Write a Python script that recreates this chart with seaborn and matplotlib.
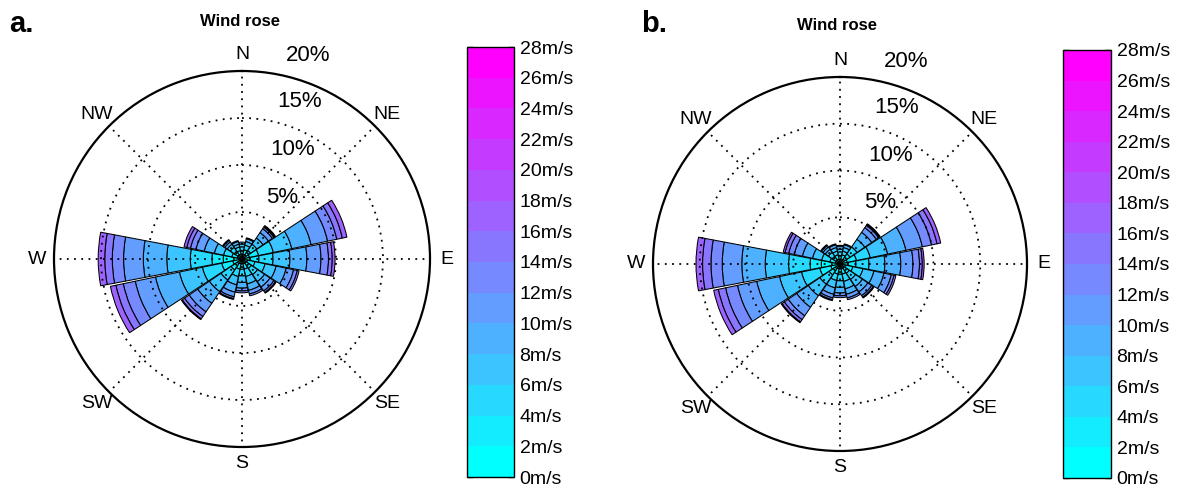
import numpy as np
import matplotlib
matplotlib.use("Agg")
import matplotlib.pyplot as plt
from matplotlib.colors import ListedColormap, BoundaryNorm
from matplotlib.cm import ScalarMappable
import seaborn as sns

# ---------------- data ----------------
directions = ["N", "NNE", "NE", "ENE", "E", "ESE", "SE", "SSE",
              "S", "SSW", "SW", "WSW", "W", "WNW", "NW", "NNW"]
compass_labels = ["N", "NE", "E", "SE", "S", "SW", "W", "NW"]
speed_edges = [0, 2, 4, 6, 8, 10, 12, 14, 16, 18, 20, 22, 24, 26, 28]
speed_ticklabels = ["0m/s", "2m/s", "4m/s", "6m/s", "8m/s", "10m/s", "12m/s",
                    "14m/s", "16m/s", "18m/s", "20m/s", "22m/s", "24m/s",
                    "26m/s", "28m/s"]
ring_values = [5, 10, 15, 20]
ring_labels = ["5%", "10%", "15%", "20%"]

# frequency (%) per direction (rows) and speed bin 0-2 ... 16-18 m/s (cols)
freq_a = [
    [0.5, 0.4, 0.4, 0.3, 0.2, 0.0, 0.0, 0.0, 0.0],  # N
    [0.5, 0.5, 0.5, 0.4, 0.3, 0.1, 0.0, 0.0, 0.0],  # NNE
    [0.5, 0.6, 0.8, 0.8, 0.7, 0.5, 0.2, 0.1, 0.1],  # NE
    [0.8, 1.0, 1.6, 2.0, 2.1, 1.8, 1.0, 0.6, 0.5],  # ENE
    [0.8, 1.0, 1.5, 1.8, 1.8, 1.5, 0.8, 0.4, 0.3],  # E
    [0.6, 0.8, 1.1, 1.2, 1.1, 0.8, 0.4, 0.2, 0.0],  # ESE
    [0.5, 0.7, 0.8, 0.9, 0.7, 0.5, 0.2, 0.1, 0.0],  # SE
    [0.5, 0.6, 0.8, 0.8, 0.7, 0.4, 0.2, 0.0, 0.0],  # SSE
    [0.5, 0.6, 0.7, 0.7, 0.6, 0.3, 0.2, 0.0, 0.0],  # S
    [0.5, 0.6, 0.8, 0.9, 0.8, 0.5, 0.2, 0.1, 0.0],  # SSW
    [0.6, 0.8, 1.3, 1.5, 1.5, 1.1, 0.6, 0.3, 0.1],  # SW
    [1.0, 1.2, 2.1, 2.5, 2.6, 2.2, 1.3, 0.8, 0.6],  # WSW
    [2.0, 1.2, 2.3, 2.5, 2.5, 2.1, 1.2, 0.8, 0.7],  # W
    [0.5, 0.6, 0.9, 1.0, 1.1, 0.9, 0.6, 0.4, 0.3],  # WNW
    [0.5, 0.5, 0.5, 0.4, 0.3, 0.2, 0.1, 0.0, 0.0],  # NW
    [0.5, 0.4, 0.4, 0.3, 0.3, 0.1, 0.0, 0.0, 0.0],  # NNW
]
freq_b = [
    [0.5, 0.4, 0.4, 0.3, 0.3, 0.1, 0.0, 0.0, 0.0],  # N
    [0.5, 0.5, 0.4, 0.4, 0.3, 0.1, 0.0, 0.0, 0.0],  # NNE
    [0.6, 0.7, 0.9, 1.0, 0.9, 0.6, 0.3, 0.1, 0.1],  # NE
    [0.8, 1.0, 1.5, 1.9, 2.0, 1.8, 1.0, 0.6, 0.4],  # ENE
    [0.8, 0.9, 1.4, 1.7, 1.7, 1.3, 0.7, 0.3, 0.2],  # E
    [0.6, 0.8, 1.1, 1.2, 1.1, 0.8, 0.3, 0.2, 0.0],  # ESE
    [0.5, 0.7, 0.8, 0.9, 0.7, 0.5, 0.2, 0.1, 0.0],  # SE
    [0.5, 0.6, 0.8, 0.8, 0.6, 0.4, 0.2, 0.0, 0.0],  # SSE
    [0.5, 0.6, 0.7, 0.7, 0.6, 0.3, 0.2, 0.0, 0.0],  # S
    [0.5, 0.6, 0.7, 0.8, 0.7, 0.4, 0.2, 0.1, 0.0],  # SSW
    [0.6, 0.8, 1.2, 1.5, 1.5, 1.1, 0.5, 0.3, 0.1],  # SW
    [1.0, 1.2, 2.0, 2.4, 2.5, 2.1, 1.3, 0.8, 0.5],  # WSW
    [2.0, 1.2, 2.3, 2.5, 2.5, 2.1, 1.2, 0.9, 0.7],  # W
    [0.5, 0.6, 0.9, 1.0, 1.1, 0.9, 0.6, 0.4, 0.2],  # WNW
    [0.5, 0.5, 0.5, 0.4, 0.3, 0.2, 0.1, 0.0, 0.0],  # NW
    [0.5, 0.5, 0.4, 0.4, 0.3, 0.1, 0.0, 0.0, 0.0],  # NNW
]

# ---------------- style ----------------
sns.set_theme(style="white")
plt.rcParams['font.family'] = ['Liberation Sans', 'DejaVu Sans']
plt.rcParams['text.color'] = 'black'
plt.rcParams['axes.labelcolor'] = 'black'
plt.rcParams['xtick.color'] = 'black'
plt.rcParams['ytick.color'] = 'black'

palette = sns.blend_palette(["#00ffff", "#ff00ff"], n_colors=len(speed_edges) - 1)
cmap = ListedColormap(palette)
norm = BoundaryNorm(speed_edges, cmap.N)

W, H = 1193, 493
fig = plt.figure(figsize=(W / 100, H / 100), dpi=100)
fig.patch.set_facecolor("white")


def px_rect(x0, y0, x1, y1):
    return [x0 / W, 1 - y1 / H, (x1 - x0) / W, (y1 - y0) / H]


def draw_rose(rect, freq):
    ax = fig.add_axes(rect, projection="polar")
    ax.set_theta_zero_location("N")
    ax.set_theta_direction(-1)
    n = len(directions)
    theta = np.deg2rad(np.arange(n) * 360.0 / n)
    width = np.deg2rad(360.0 / n) * 0.955
    f = np.array(freq, dtype=float)
    bottom = np.zeros(n)
    for j in range(f.shape[1]):
        h = f[:, j]
        m = h > 0
        ax.bar(theta[m], h[m], width=width, bottom=bottom[m], color=palette[j],
               edgecolor="black", linewidth=0.75, zorder=1)
        bottom += h
    ax.set_ylim(0, ring_values[-1])
    ax.set_xticks(np.deg2rad(np.arange(len(compass_labels)) * 45))
    ax.set_xticklabels([])
    ax.set_yticks(ring_values[:-1])
    ax.set_yticklabels([])
    ax.tick_params(length=0)
    ax.grid(True, color="black", linestyle=(0, (1, 3)), linewidth=1.3)
    ax.set_axisbelow(False)
    for gl in ax.xaxis.get_gridlines() + ax.yaxis.get_gridlines():
        gl.set_zorder(3)
    ax.spines["polar"].set_linewidth(1.6)
    ax.spines["polar"].set_color("black")
    ax.set_facecolor("white")
    for k, lab in enumerate(compass_labels):
        ax.text(np.deg2rad(k * 45), 21.8, lab, ha="center", va="center",
                fontsize=14, color="black")
    label_angles = [33, 25, 20, 18]
    for ang, rv, lab in zip(label_angles, ring_values, ring_labels):
        ax.text(np.deg2rad(ang), rv + 2.8, lab, ha="center", va="center",
                fontsize=16, color="black", zorder=5)
    return ax


def draw_cbar(rect):
    cax = fig.add_axes(rect)
    cb = fig.colorbar(ScalarMappable(norm=norm, cmap=cmap), cax=cax,
                      ticks=speed_edges, spacing="proportional")
    cb.set_ticklabels(speed_ticklabels)
    cb.outline.set_linewidth(1.0)
    cb.outline.set_edgecolor("black")
    cax.tick_params(direction="in", left=True, right=True, length=4,
                    width=1, color="#222222", labelcolor="black",
                    labelsize=14, pad=4)
    return cb


draw_rose(px_rect(54, 71, 430, 447), freq_a)
draw_rose(px_rect(653, 77, 1027, 451), freq_b)
draw_cbar(px_rect(467, 47, 514, 477))
draw_cbar(px_rect(1063, 50, 1111, 478))

fig.text(240 / W, 1 - 21 / H, "Wind rose", ha="center", va="center",
         fontsize=12, fontweight="bold", color="black")
fig.text(837 / W, 1 - 25 / H, "Wind rose", ha="center", va="center",
         fontsize=12, fontweight="bold", color="black")
fig.text(9 / W, 1 - 24 / H, "a.", ha="left", va="center",
         fontsize=21, fontweight="bold", color="black")
fig.text(641 / W, 1 - 24 / H, "b.", ha="left", va="center",
         fontsize=21, fontweight="bold", color="black")

fig.savefig("out.png", dpi=100, facecolor="white")
